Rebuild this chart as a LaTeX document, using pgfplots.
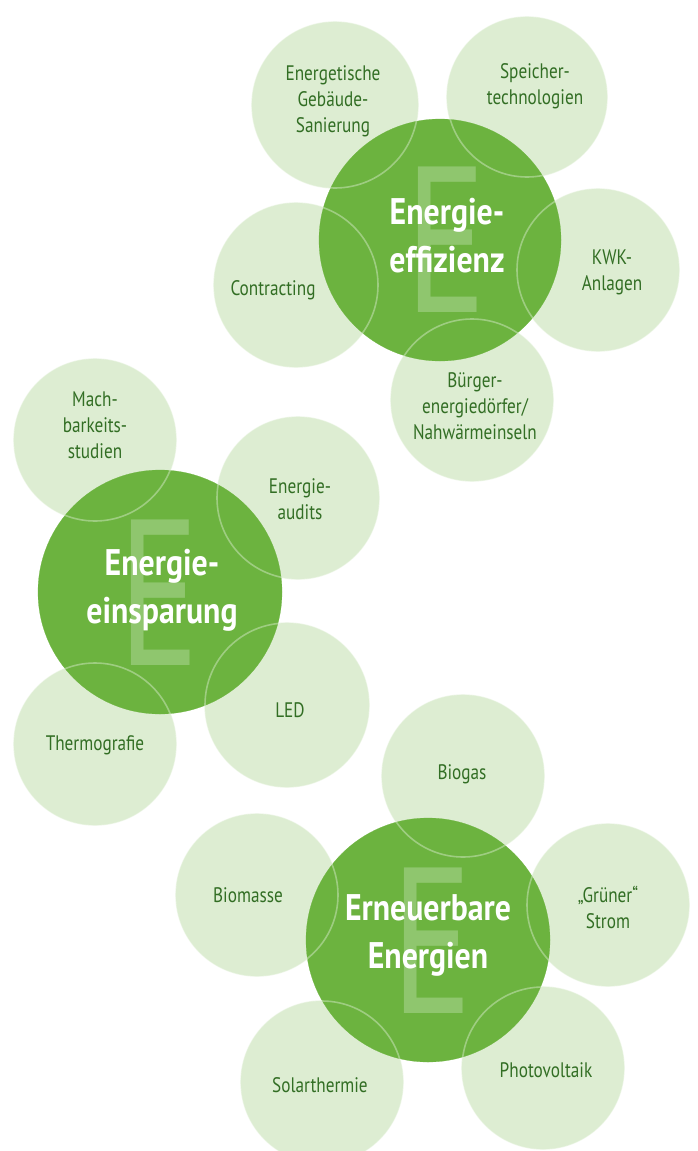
\documentclass[border=0pt]{standalone}
\usepackage{pgfplots}
\pgfplotsset{compat=1.18}
\usepackage{pgfplotstable}
\usepackage{fontspec}
\setmainfont{PT Sans}[FakeStretch=0.82]
\newfontfamily\bigfont{PT Sans}[FakeStretch=0.86]
\newfontfamily\efont{PT Sans}[FakeStretch=0.73]
\definecolor{darkg}{RGB}{108,179,63}
\definecolor{lightg}{RGB}{221,237,210}
\definecolor{txtg}{RGB}{50,110,36}
\definecolor{eg}{RGB}{143,198,110}
\tikzset{
  lab/.style={align=center, inner sep=0pt, text=txtg, font=\fontsize{10.5}{13}\selectfont},
  big/.style={align=center, inner sep=0pt, text=white, font=\bigfont\bfseries\fontsize{18.5}{24}\selectfont},
  bigE/.style={inner sep=0pt, text=eg, font=\efont\fontsize{104}{104}\selectfont}}

\pgfplotstableread{
x y r
335 105 83
527 97 80
296 285 82
598 270 81
472 400 81
95 440 81
298 498 81
95 744 81
287 705 82
463 776 81
257 895 81
608 905 81
322 1082 81
543 1068 81
}\lighttab

\pgfplotstableread{
x y r
440 240 121
160 592 122
428 940 122
}\darktab

\begin{document}
\begin{tikzpicture}
\begin{axis}[scale only axis, width=348.5pt, height=575.5pt,
  xmin=0, xmax=697, ymin=0, ymax=1151, y dir=reverse, hide axis,
  clip marker paths=true]
\coordinate (bl) at (rel axis cs:0,0);
\coordinate (tr) at (rel axis cs:1,1);
% light circles
\addplot[scatter, only marks, mark=*, mark options={line width=0.1pt},
  scatter/use mapped color={draw=lightg, fill=lightg},
  visualization depends on={0.5*\thisrow{r} \as \ms},
  scatter/@pre marker code/.append style={/tikz/mark size=\ms pt}] table[x=x, y=y] {\lighttab};
% dark circles
\addplot[scatter, only marks, mark=*, mark options={line width=0.1pt},
  scatter/use mapped color={draw=darkg, fill=darkg},
  visualization depends on={0.5*\thisrow{r} \as \ms},
  scatter/@pre marker code/.append style={/tikz/mark size=\ms pt}] table[x=x, y=y] {\darktab};
% outlines of light circles
\addplot[scatter, only marks, mark=o, mark options={line width=0.8pt},
  scatter/use mapped color={draw=lightg, draw opacity=0.45},
  visualization depends on={0.5*\thisrow{r} \as \ms},
  scatter/@pre marker code/.append style={/tikz/mark size=\ms pt}] table[x=x, y=y] {\lighttab};
% big E letters
\node[bigE] at (axis cs:446,240) {E};
\node[bigE] at (axis cs:159,593) {E};
\node[bigE] at (axis cs:432,941) {E};
% big labels
\node[big] at (axis cs:447,236) {Energie-\\effizienz};
\node[big] at (axis cs:162,590) {Energie-\\einsparung};
\node[big] at (axis cs:428,935) {Erneuerbare\\Energien};
% small labels
\node[lab] at (axis cs:333,101) {Energetische\\Gebäude-\\Sanierung};
\node[lab] at (axis cs:535,86) {Speicher-\\technologien};
\node[lab] at (axis cs:273,290) {Contracting};
\node[lab] at (axis cs:612,272) {KWK-\\Anlagen};
\node[lab] at (axis cs:475,406) {Bürger-\\energiedörfer/\\Nahwärmeinseln};
\node[lab] at (axis cs:95,425) {Mach-\\barkeits-\\studien};
\node[lab] at (axis cs:300,499) {Energie-\\audits};
\node[lab] at (axis cs:95,745) {Thermografie};
\node[lab] at (axis cs:290,710) {LED};
\node[lab] at (axis cs:462,774) {Biogas};
\node[lab] at (axis cs:248,895) {Biomasse};
\node[lab] at (axis cs:608,907) {„Grüner“\\Strom};
\node[lab] at (axis cs:320,1085) {Solarthermie};
\node[lab] at (axis cs:546,1070) {Photovoltaik};
\end{axis}
\pgfresetboundingbox
\path[use as bounding box] (bl) rectangle (tr);
\end{tikzpicture}
\end{document}
